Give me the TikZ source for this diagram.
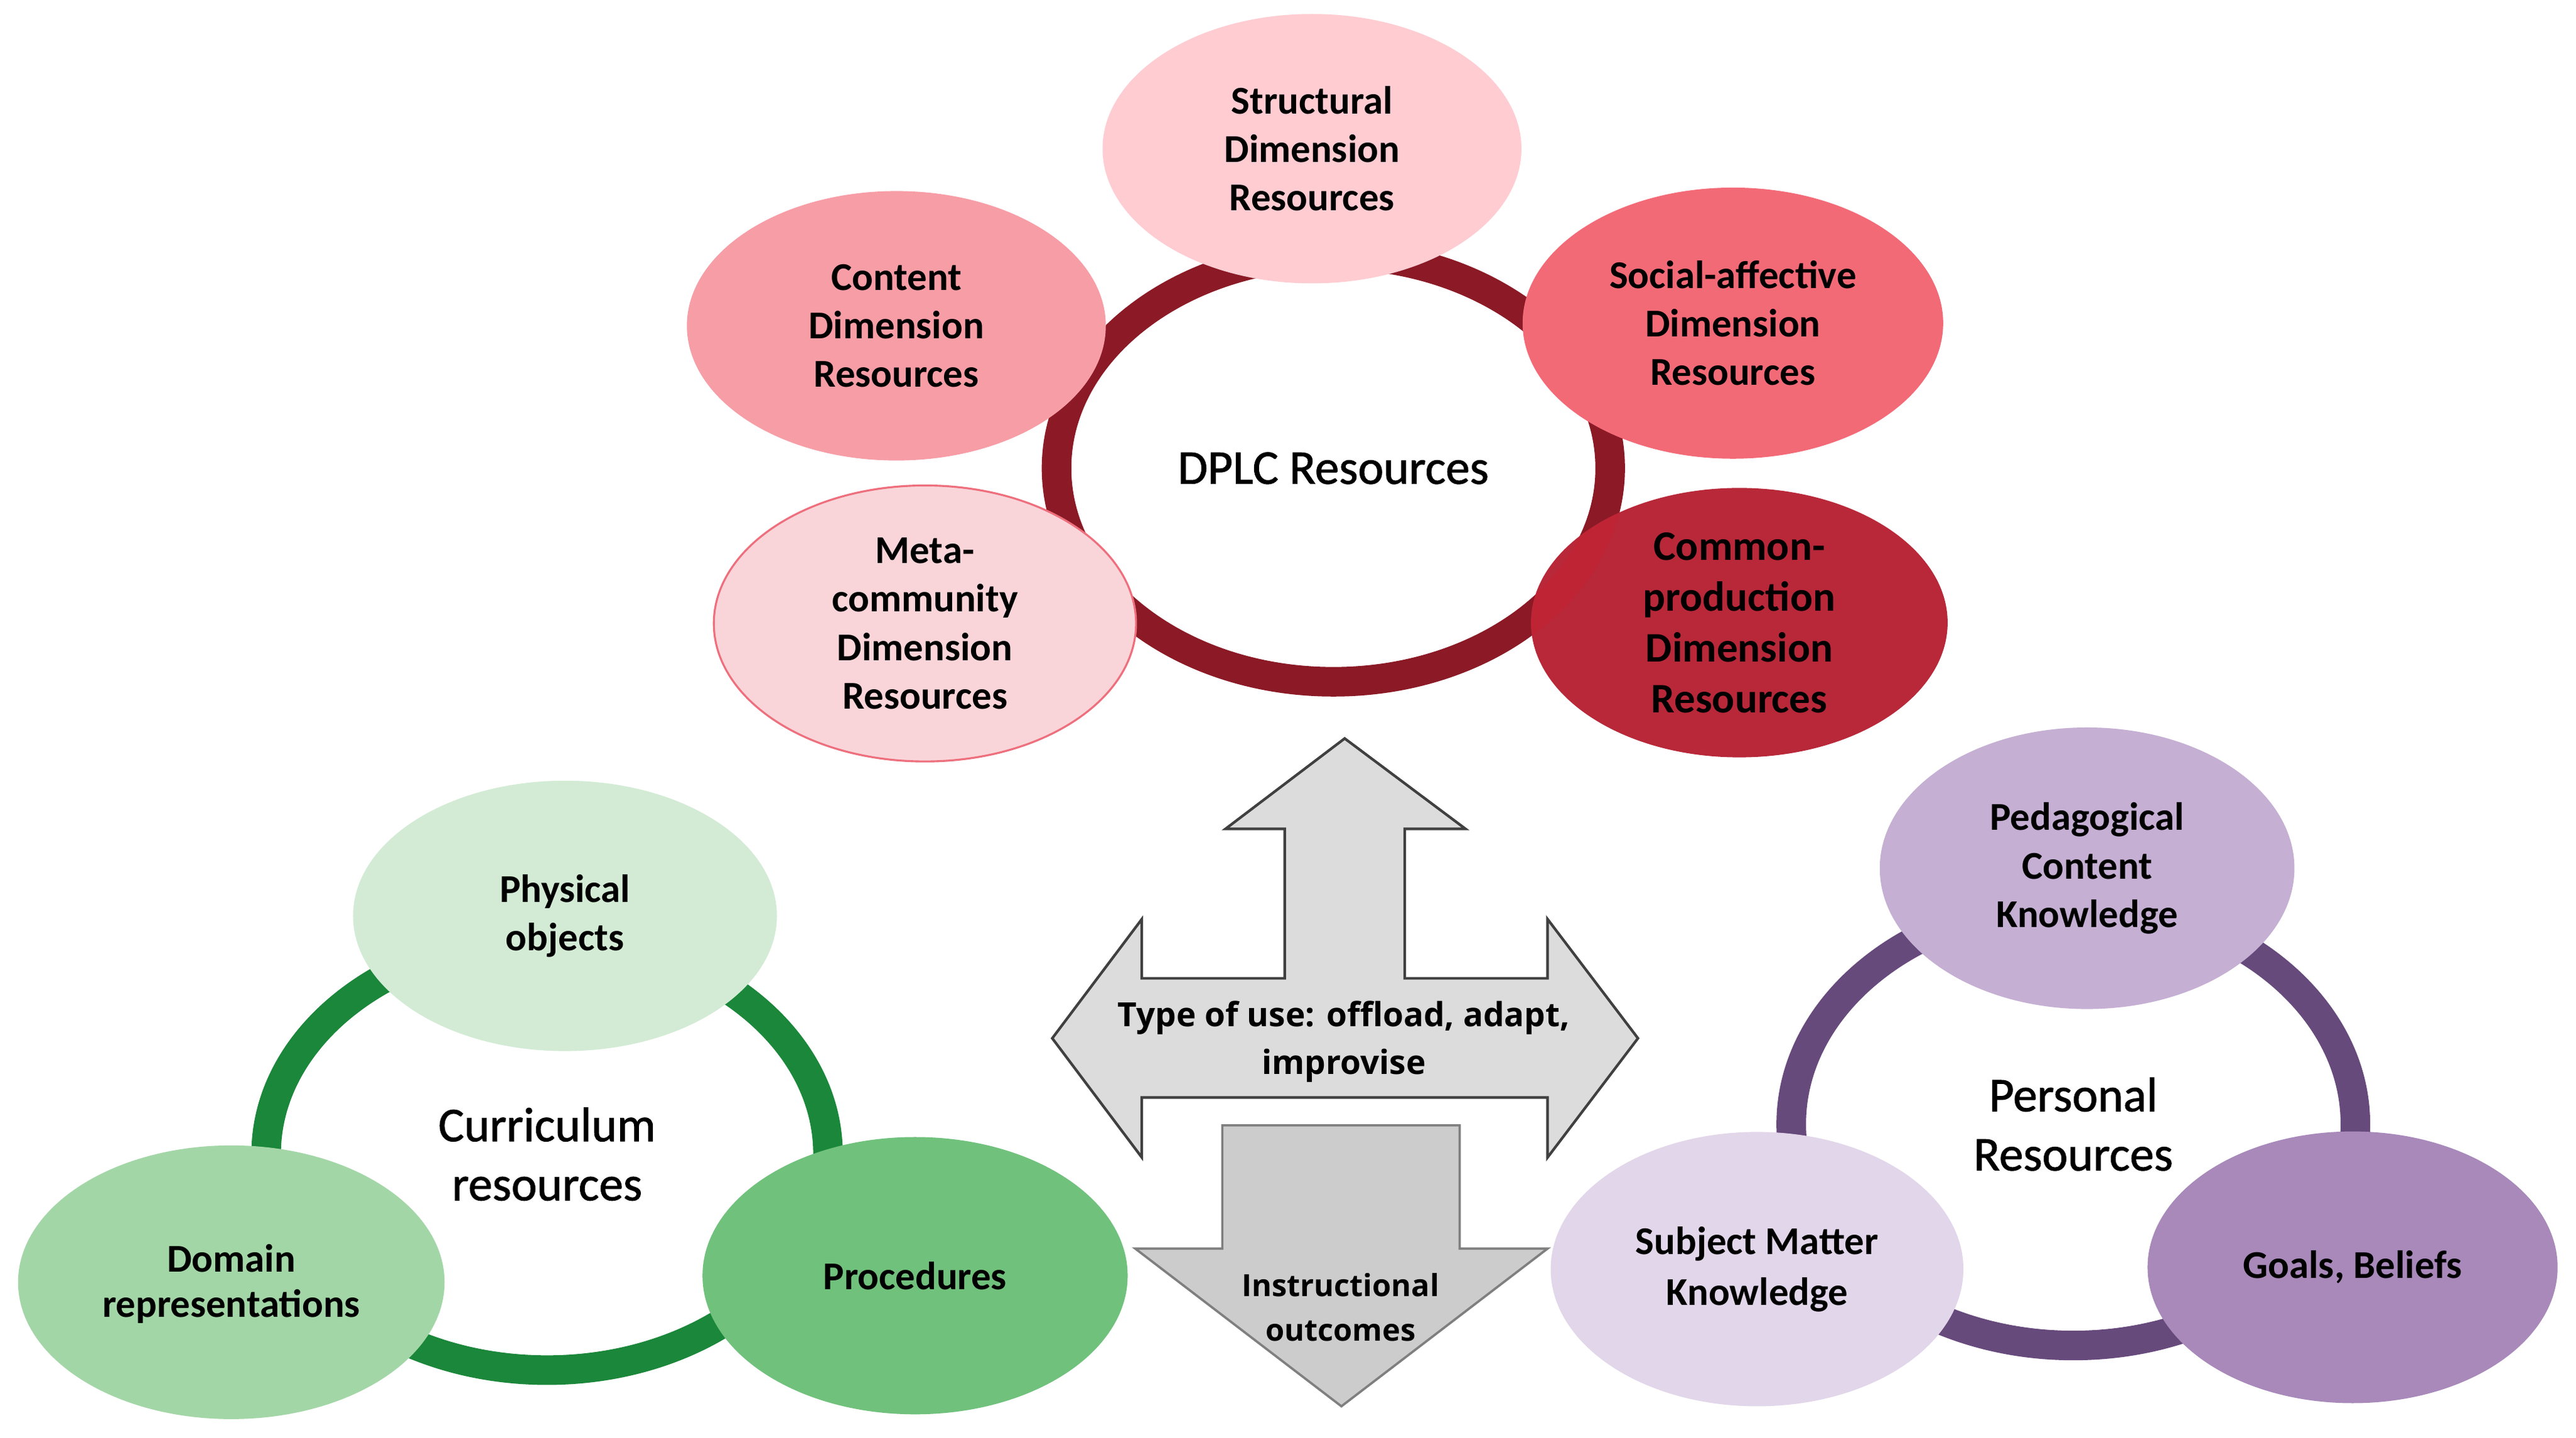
\documentclass[tikz,border=0pt]{standalone}
\usepackage{fontspec}
\setmainfont{Carlito}
\newfontfamily\centerfont{Carlito}[FakeBold=1.2]
\newfontfamily\arrowfont{Open Sans}
\usetikzlibrary{shapes.geometric}
\definecolor{dplcring}{HTML}{8B1A26}
\definecolor{cStruct}{HTML}{FFCCD2}
\definecolor{cContent}{HTML}{F79DA6}
\definecolor{cSocial}{HTML}{F36A77}
\definecolor{cMeta}{HTML}{F9D5D9}
\definecolor{cMetaBorder}{HTML}{EE6F7D}
\definecolor{cCommon}{HTML}{B82839}
\definecolor{cCommonBand}{HTML}{C8202F}
\definecolor{greenring}{HTML}{1B873A}
\definecolor{cPhys}{HTML}{D3EBD5}
\definecolor{cDomain}{HTML}{A3D6A7}
\definecolor{cProc}{HTML}{70C17C}
\definecolor{purplering}{HTML}{674A7C}
\definecolor{cPed}{HTML}{C5AFD3}
\definecolor{cSubj}{HTML}{E2D6EA}
\definecolor{cGoals}{HTML}{A889BA}
\definecolor{arrowfill}{HTML}{DCDCDC}
\definecolor{arrowborder}{HTML}{404040}
\definecolor{downfill}{HTML}{CCCCCC}
\definecolor{downborder}{HTML}{7F7F7F}
\begin{document}
\begin{tikzpicture}[x=1pt,y=-1pt,
  ringnode/.style={ellipse, draw, line width=18pt, inner sep=0pt, align=center,
    font=\centerfont\fontsize{29.5}{36}\selectfont},
  bubble/.style={ellipse, inner sep=0pt, align=center,
    font=\fontsize{24}{29.5}\selectfont\bfseries},
  arrowtext/.style={align=center, inner sep=0pt,
    font={\arrowfont\bfseries\fontsize{20.3}{28.8}\selectfont}},
  bigarrow/.style={fill=arrowfill, draw=arrowborder, line width=1.6pt, line join=miter},
  downarrow/.style={fill=downfill, draw=downborder, line width=1.4pt, line join=miter}
]
\useasboundingbox (0,0) rectangle (1568,875.3);
\fill[white] (0,0) rectangle (1568,875.3);

% ---------- DPLC group ----------
\node[ringnode, draw=dplcring, minimum width=337pt, minimum height=260pt] (dplc) at (811.6,285) {DPLC Resources};
\node[bubble, fill=cStruct, minimum width=255pt, minimum height=164pt] (structural) at (798.6,90.5) {Structural\\Dimension\\Resources};
\node[bubble, fill=cContent, minimum width=255pt, minimum height=164pt] (content) at (545.6,198.3) {Content\\Dimension\\Resources};
\node[bubble, fill=cSocial, minimum width=256pt, minimum height=165pt] (social) at (1054.8,196.7) {Social-affective\\Dimension\\Resources};
\node[bubble, fill=cMeta, draw=cMetaBorder, line width=1.2pt, minimum width=257pt, minimum height=168pt] (meta) at (563,379.5) {Meta-\\community\\Dimension\\Resources};
\node[bubble, fill=cCommon, minimum width=253.6pt, minimum height=164pt] (common) at (1058.7,379) {};
\begin{scope}
  \clip (common.center) ellipse [x radius=126.8, y radius=82];
  \draw[cCommonBand, opacity=0.45, line width=18pt] (dplc.center) ellipse [x radius=168.5, y radius=130];
\end{scope}
\node[align=center, inner sep=0pt, font=\fontsize{25.6}{31}\selectfont\bfseries] (commontext) at (common.center) {Common-\\production\\Dimension\\Resources};

% ---------- Curriculum group ----------
\node[ringnode, draw=greenring, minimum width=342pt, minimum height=263pt] (curr) at (333,702.5) {Curriculum\\resources};
\node[bubble, fill=cPhys, minimum width=258pt, minimum height=164.6pt] (physical) at (343.9,557.5) {Physical\\objects};
\node[bubble, fill=cDomain, minimum width=259.6pt, minimum height=166.6pt, font=\fontsize{24}{27.5}\selectfont\bfseries] (domain) at (140.8,780.5) {};
\node[align=center, inner sep=0pt, font=\fontsize{24}{27.5}\selectfont\bfseries] (domaintext) at (140.8,781.5) {Domain\\representations};
\node[bubble, fill=cProc, minimum width=258.8pt, minimum height=168.8pt] (procedures) at (557,776.5) {Procedures};

% ---------- Personal group ----------
\node[ringnode, draw=purplering, minimum width=343.4pt, minimum height=269.4pt] (personal) at (1262,684.3) {Personal\\Resources};
\node[bubble, fill=cPed, minimum width=252.4pt, minimum height=171.4pt] (pedagogical) at (1270.4,528.5) {Pedagogical\\Content\\Knowledge};
\node[bubble, fill=cSubj, minimum width=251.2pt, minimum height=167pt, font=\fontsize{24}{31}\selectfont\bfseries] (subject) at (1069.5,772.5) {Subject Matter\\Knowledge};
\node[bubble, fill=cGoals, minimum width=249.6pt, minimum height=165.4pt] (goals) at (1432,771.4) {Goals, Beliefs};

% ---------- Central arrows ----------
\draw[bigarrow] (818.5,449.5) -- (892,504.5) -- (855,504.5) -- (855,595.5) -- (942,595.5)
  -- (942,559.5) -- (997,632) -- (942,704.5) -- (942,668) -- (695,668) -- (695,704.5)
  -- (640.5,632) -- (695,559.5) -- (695,595.5) -- (782,595.5) -- (782,504.5) -- (746,504.5) -- cycle;
\node[arrowtext] (typeofuse) at (818,634) {Type of use: offload, adapt,\\improvise};

\draw[downarrow] (744,685) -- (888.5,685) -- (888.5,760) -- (942,760) -- (816.5,856)
  -- (691,760) -- (744,760) -- cycle;
\node[arrowtext, font={\arrowfont\bfseries\fontsize{18.6}{27.2}\selectfont}] (outcomes) at (816,795.8) {Instructional\\outcomes};
\end{tikzpicture}
\end{document}
